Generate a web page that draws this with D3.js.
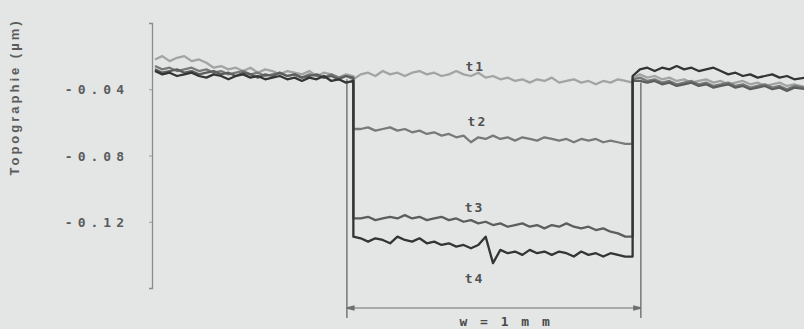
<!DOCTYPE html>
<html><head><meta charset="utf-8">
<script src="https://cdn.jsdelivr.net/npm/d3@7"></script>
<style>
html,body{margin:0;padding:0;background:#e4e6e6;}
svg{display:block;}
</style></head>
<body>
<script>
// ---- data (x in mm from axis, y in µm) ----
const xs = [
 0.010,0.035,0.060,0.085,0.110,0.135,0.160,0.185,0.210,0.235,0.260,0.285,0.310,0.335,0.360,0.385,0.410,0.435,0.460,0.485,0.510,0.535,0.560,0.585,0.610,0.635,0.660,0.685,
 0.685,
 0.710,0.735,0.760,0.785,0.810,0.835,0.860,0.885,0.910,0.935,0.960,0.985,1.010,1.035,1.060,1.085,1.110,1.135,1.160,1.185,1.210,1.235,1.260,1.285,1.310,1.335,1.360,1.385,1.410,1.435,1.460,1.485,1.510,1.535,1.560,1.585,1.610,
 1.635,1.635,
 1.660,1.685,1.710,1.735,1.760,1.785,1.810,1.835,1.860,1.885,1.910,1.935,1.960,1.985,2.010,2.035,2.060,2.085,2.110,2.135,2.160,2.185,2.225
];
const t1 = [
 -0.022,-0.020,-0.023,-0.021,-0.020,-0.023,-0.022,-0.024,-0.027,-0.026,-0.028,-0.027,-0.029,-0.027,-0.030,-0.028,-0.029,-0.031,-0.029,-0.030,-0.031,-0.029,-0.032,-0.030,-0.031,-0.033,-0.031,-0.032,
 -0.034,
 -0.031,-0.030,-0.032,-0.029,-0.031,-0.030,-0.032,-0.030,-0.029,-0.031,-0.030,-0.032,-0.031,-0.029,-0.031,-0.032,-0.030,-0.033,-0.032,-0.034,-0.033,-0.035,-0.034,-0.036,-0.034,-0.035,-0.033,-0.036,-0.035,-0.034,-0.036,-0.035,-0.037,-0.035,-0.036,-0.034,-0.035,
 -0.036,-0.033,
 -0.031,-0.033,-0.032,-0.034,-0.033,-0.035,-0.034,-0.036,-0.035,-0.034,-0.036,-0.035,-0.037,-0.036,-0.035,-0.037,-0.036,-0.038,-0.037,-0.036,-0.038,-0.037,-0.039
];
const t2 = [
 -0.026,-0.028,-0.027,-0.029,-0.028,-0.027,-0.029,-0.028,-0.030,-0.029,-0.031,-0.030,-0.029,-0.031,-0.030,-0.032,-0.031,-0.030,-0.032,-0.031,-0.033,-0.031,-0.032,-0.033,-0.031,-0.033,-0.032,-0.034,
 -0.064,
 -0.064,-0.063,-0.065,-0.064,-0.063,-0.065,-0.064,-0.066,-0.065,-0.067,-0.066,-0.068,-0.067,-0.069,-0.068,-0.072,-0.069,-0.070,-0.068,-0.070,-0.069,-0.071,-0.069,-0.070,-0.071,-0.069,-0.070,-0.071,-0.070,-0.072,-0.070,-0.071,-0.070,-0.072,-0.071,-0.072,-0.073,
 -0.073,-0.034,
 -0.033,-0.035,-0.034,-0.036,-0.035,-0.037,-0.036,-0.035,-0.037,-0.036,-0.038,-0.037,-0.036,-0.038,-0.037,-0.039,-0.038,-0.037,-0.039,-0.038,-0.040,-0.038,-0.039
];
const t3 = [
 -0.028,-0.030,-0.029,-0.028,-0.030,-0.029,-0.031,-0.030,-0.029,-0.031,-0.030,-0.032,-0.030,-0.031,-0.033,-0.031,-0.032,-0.030,-0.032,-0.031,-0.033,-0.032,-0.031,-0.033,-0.032,-0.034,-0.032,-0.033,
 -0.118,
 -0.118,-0.117,-0.119,-0.118,-0.117,-0.118,-0.116,-0.118,-0.117,-0.119,-0.118,-0.117,-0.119,-0.118,-0.120,-0.119,-0.121,-0.120,-0.122,-0.121,-0.123,-0.122,-0.121,-0.123,-0.122,-0.124,-0.122,-0.123,-0.121,-0.123,-0.124,-0.123,-0.125,-0.124,-0.126,-0.127,-0.129,
 -0.129,-0.035,
 -0.035,-0.036,-0.035,-0.037,-0.036,-0.038,-0.037,-0.036,-0.038,-0.037,-0.039,-0.038,-0.037,-0.039,-0.038,-0.040,-0.039,-0.038,-0.040,-0.039,-0.041,-0.039,-0.040
];
const t4 = [
 -0.029,-0.031,-0.030,-0.032,-0.031,-0.030,-0.032,-0.033,-0.031,-0.032,-0.034,-0.032,-0.031,-0.033,-0.032,-0.034,-0.033,-0.032,-0.034,-0.033,-0.035,-0.033,-0.034,-0.032,-0.035,-0.034,-0.036,-0.035,
 -0.129,
 -0.130,-0.132,-0.130,-0.131,-0.133,-0.129,-0.131,-0.132,-0.130,-0.133,-0.132,-0.134,-0.133,-0.135,-0.134,-0.136,-0.134,-0.129,-0.145,-0.137,-0.139,-0.138,-0.140,-0.137,-0.139,-0.138,-0.140,-0.138,-0.139,-0.141,-0.138,-0.140,-0.139,-0.141,-0.139,-0.140,-0.141,
 -0.141,-0.032,
 -0.028,-0.027,-0.029,-0.027,-0.028,-0.026,-0.028,-0.027,-0.029,-0.028,-0.027,-0.029,-0.031,-0.030,-0.032,-0.031,-0.033,-0.032,-0.031,-0.033,-0.032,-0.034,-0.033
];
const seriesNames = ["t1","t2","t3","t4"];
const seriesColors = ["#a2a3a3","#787979","#5c5d5d","#333434"];
const labelPos = [[1.1,-0.026],[1.107,-0.0595],[1.097,-0.1115],[1.097,-0.1545]]; // label anchor (mm, µm)
const yTicks = [-0.04,-0.08,-0.12];
const yTickLabels = ["-0.04","-0.08","-0.12"];
const yTitle = "Topographie (µm)";
const dimStart = [0.663];   // mm
const dimWidth = [1.0];     // mm
const dimLabel = "w = 1 m m";

const W = 804, H = 329;
const svg = d3.select("body").append("svg").attr("width",W).attr("height",H);

const x = d3.scaleLinear().domain([0,2.218]).range([152,804]);
const y = d3.scaleLinear().domain([-0.16,0]).range([288,23]);

// axis
const yAxis = d3.axisLeft(y).tickValues(yTicks).tickFormat((d,i)=>yTickLabels[i]).tickSize(3).tickPadding(20);
const ga = svg.append("g").attr("transform","translate(152,0)").call(yAxis);
ga.select(".domain").attr("stroke","#8a8b8b").attr("stroke-width",1.3);
ga.selectAll(".tick line").attr("stroke","#9a9b9b");
ga.selectAll(".tick text").attr("fill","#5a5b5b").attr("font-family","DejaVu Sans Mono, monospace")
  .attr("font-size",13).attr("font-weight","bold").attr("letter-spacing","5px").attr("dy","0.35em");

svg.append("text").attr("transform","translate(19,97) rotate(-90)")
  .attr("text-anchor","middle").attr("font-family","Liberation Sans, Arial, sans-serif")
  .attr("font-size",13).attr("font-weight","bold").attr("letter-spacing","3px")
  .attr("fill","#5a5b5b").text(yTitle);

// dimension annotation
const dx0 = x(dimStart[0]), dx1 = x(dimStart[0]+dimWidth[0]);
const dim = svg.append("g").attr("stroke","#6e6f6f").attr("stroke-width",1.4);
dim.append("line").attr("x1",dx0).attr("x2",dx0).attr("y1",y(-0.034)).attr("y2",318);
dim.append("line").attr("x1",dx1).attr("x2",dx1).attr("y1",y(-0.036)).attr("y2",318);
dim.append("line").attr("x1",dx0).attr("x2",dx1).attr("y1",308).attr("y2",308).attr("stroke-width",1.1);
dim.append("path").attr("d",`M${dx0},308 l7,-1.8 l0,3.6 z`).attr("fill","#6e6f6f");
dim.append("path").attr("d",`M${dx1},308 l-7,-1.8 l0,3.6 z`).attr("fill","#6e6f6f");
svg.append("text").attr("x",(dx0+dx1)/2+12).attr("y",326).attr("text-anchor","middle")
  .attr("font-family","DejaVu Sans Mono, monospace").attr("font-size",13).attr("font-weight","bold")
  .attr("letter-spacing","2.5px").attr("fill","#4a4b4b").text(dimLabel);

// series lines
const line = d3.line().x(d=>x(d[0])).y(d=>y(d[1]));
const allSeries = [t1,t2,t3,t4];
allSeries.forEach((s,k)=>{
  const pts = s.map((v,i)=>[xs[i],v]);
  svg.append("path").datum(pts).attr("d",line).attr("fill","none")
    .attr("stroke",seriesColors[k]).attr("stroke-width",2.3).attr("stroke-linejoin","round");
});

// series labels
seriesNames.forEach((n,k)=>{
  svg.append("text").attr("x",x(labelPos[k][0])).attr("y",y(labelPos[k][1]))
    .attr("text-anchor","middle").attr("dy","0.35em")
    .attr("font-family","DejaVu Sans Mono, monospace").attr("font-size",13).attr("font-weight","bold")
    .attr("letter-spacing","2px").attr("fill","#505151").text(n);
});
</script>
</body></html>
